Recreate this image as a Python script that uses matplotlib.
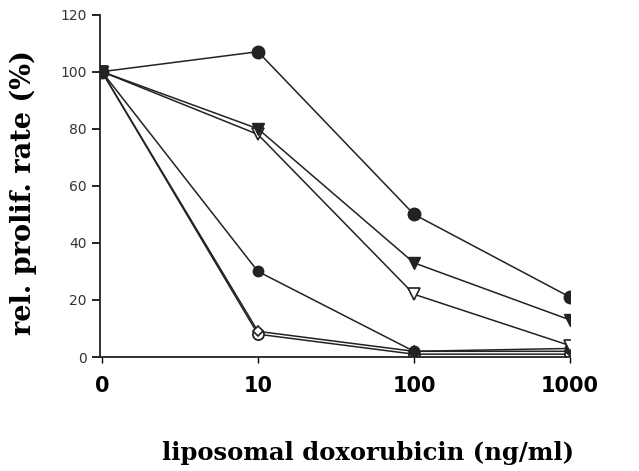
import matplotlib
matplotlib.use('Agg')
import matplotlib.pyplot as plt
import numpy as np

doses = ['0', '10', '100', '1000']
filled_circle = [100, 107, 50, 21]
filled_tri = [100, 80, 33, 13]
open_tri = [100, 78, 22, 4]
small_dot = [100, 30, 2, 3]
open_circle = [100, 8, 1, 1]
open_diamond = [100, 9, 2, 2]

x = np.arange(len(doses))

fig = plt.figure(figsize=(6.39, 4.71), dpi=100)
ax = fig.add_axes([0.157, 0.242, 0.735, 0.727])

line = dict(color='#222222', lw=1.1)
ax.plot(x, open_circle, marker='o', ms=8, mfc='white', mec='#222222', mew=1.3, **line)
ax.plot(x, open_diamond, marker='D', ms=5, mfc='white', mec='#222222', mew=1.2, **line)
ax.plot(x, small_dot, marker='o', ms=7.5, mfc='#222222', mec='#222222', **line)
ax.plot(x, open_tri, marker='v', ms=8, mfc='white', mec='#222222', mew=1.2, **line)
ax.plot(x, filled_tri, marker='v', ms=8, mfc='#222222', mec='#222222', **line)
ax.plot(x, filled_circle, marker='o', ms=9, mfc='#222222', mec='#222222', **line)

ax.set_xlim(-0.01, 3.0)
ax.set_ylim(0, 120)
ax.set_yticks(range(0, 121, 20))
ax.set_xticks(x)
ax.set_xticklabels(doses, fontsize=15, fontweight='bold', family='DejaVu Sans')
ax.tick_params(axis='y', labelsize=10, direction='out', length=6, width=1.2, pad=4)
ax.tick_params(axis='x', direction='out', length=4, width=1, pad=10)
for lab in ax.get_yticklabels():
    lab.set_color('#333333')

for s in ['top', 'right']:
    ax.spines[s].set_visible(False)
for s in ['left', 'bottom']:
    ax.spines[s].set_linewidth(1.3)
    ax.spines[s].set_color('#222222')

ax.set_ylabel('rel. prolif. rate (%)', fontsize=19.5, fontweight='bold',
              family='DejaVu Serif')
ax.set_xlabel('liposomal doxorubicin (ng/ml)', fontsize=17.5, fontweight='bold',
              family='DejaVu Serif')
ax.xaxis.set_label_coords(0.570, -0.245)
ax.yaxis.set_label_coords(-0.135, 0.48)

fig.savefig('out.png', dpi=100)
